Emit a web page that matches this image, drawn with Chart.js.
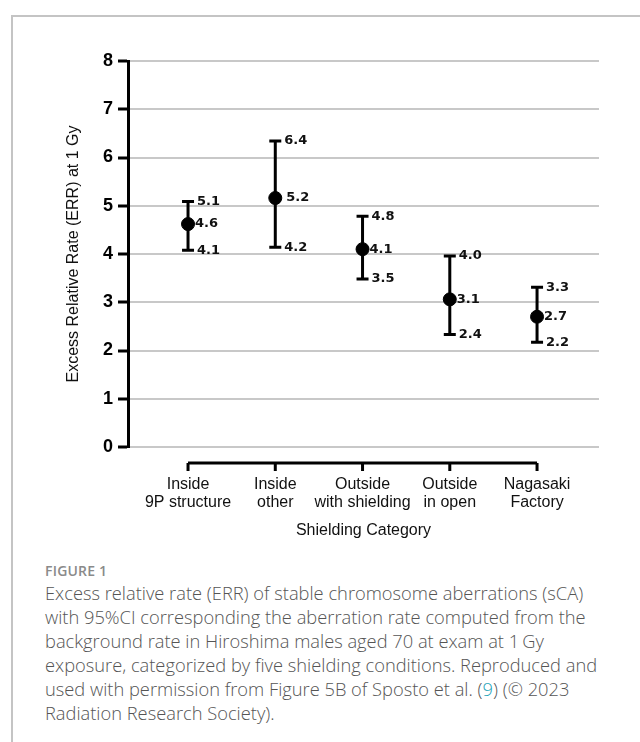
<!DOCTYPE html>
<html>
<head>
<meta charset="utf-8">
<script src="https://cdn.jsdelivr.net/npm/chart.js@4/dist/chart.umd.min.js"></script>
<style>
  html, body { margin: 0; padding: 0; background: #fff; }
  body { width: 640px; height: 742px; position: relative; overflow: hidden; }
  #frame { position: absolute; left: 11px; top: 15px; width: 700px; height: 800px;
           border-top: 2px solid #c4c4c4; border-left: 2px solid #c4c4c4; }
  #chartBox { position: absolute; left: 0; top: 0; width: 640px; height: 560px; }
  #figLabel { position: absolute; left: 45px; top: 561px; font-family: "Open Sans", sans-serif;
              font-weight: 600; font-size: 14px; color: #8a8a8a; letter-spacing: 0.2px; }
  #caption { position: absolute; left: 45px; top: 581px; font-family: "Open Sans", sans-serif;
             font-weight: 300; font-size: 18.3px; line-height: 24px; color: #555; white-space: nowrap; }
  #caption a { color: #1ba3b8; text-decoration: none; }
</style>
</head>
<body>
<div id="frame"></div>
<div id="chartBox"><canvas id="chart"></canvas></div>
<div id="figLabel">FIGURE 1</div>
<div id="caption">
Excess relative rate (ERR) of stable chromosome aberrations (sCA)<br>
with 95%CI corresponding the aberration rate computed from the<br>
background rate in Hiroshima males aged 70 at exam at 1&#8201;Gy<br>
exposure, categorized by five shielding conditions. Reproduced and<br>
used with permission from Figure 5B of Sposto et al. (<a>9</a>) (© 2023<br>
Radiation Research Society).
</div>
<script>
// categories (shielding)
const categories = [
  ["Inside", "9P structure"],
  ["Inside", "other"],
  ["Outside", "with shielding"],
  ["Outside", "in open"],
  ["Nagasaki", "Factory"]
];

// ERR at 1 Gy
const errValues = [4.62, 5.16, 4.10, 3.06, 2.70];
const ciLower   = [4.08, 4.14, 3.48, 2.33, 2.17];
const ciUpper   = [5.09, 6.34, 4.78, 3.96, 3.31];

// printed labels next to the bars
const errText   = ["4.6", "5.2", "4.1", "3.1", "2.7"];
const lowerText = ["4.1", "4.2", "3.5", "2.4", "2.2"];
const upperText = ["5.1", "6.4", "4.8", "4.0", "3.3"];

const yTicks = [0, 1, 2, 3, 4, 5, 6, 7, 8];

// error bars + value labels
const errorBarPlugin = {
  id: "errorBars",
  beforeDatasetsDraw(chart) {
    const ctx = chart.ctx;
    const xs = chart.scales.x, ys = chart.scales.y;
    ctx.save();
    ctx.strokeStyle = "#000";
    ctx.lineWidth = 3;
    errValues.forEach((v, i) => {
      const x = xs.getPixelForValue(i);
      const yl = ys.getPixelForValue(ciLower[i]);
      const yu = ys.getPixelForValue(ciUpper[i]);
      ctx.beginPath();
      ctx.moveTo(x, yl); ctx.lineTo(x, yu);
      ctx.moveTo(x - 6, yl); ctx.lineTo(x + 6, yl);
      ctx.moveTo(x - 6, yu); ctx.lineTo(x + 6, yu);
      ctx.stroke();
    });
    ctx.restore();
  },
  afterDatasetsDraw(chart) {
    const ctx = chart.ctx;
    const xs = chart.scales.x, ys = chart.scales.y;
    ctx.save();
    ctx.fillStyle = "#111";
    ctx.font = "bold 13px 'DejaVu Sans'";
    ctx.textBaseline = "middle";
    ctx.textAlign = "left";
    errValues.forEach((v, i) => {
      const x = xs.getPixelForValue(i) + 9;
      ctx.fillText(upperText[i], x, ys.getPixelForValue(ciUpper[i]));
      ctx.fillText(errText[i], x - 2 + (i === 1 ? 4 : 0), ys.getPixelForValue(v));
      ctx.fillText(lowerText[i], x, ys.getPixelForValue(ciLower[i]));
    });
    // bracket-style x axis
    const bx0 = xs.getPixelForValue(0);
    const bx1 = xs.getPixelForValue(categories.length - 1);
    const by = chart.chartArea.bottom + 16;
    ctx.strokeStyle = "#000";
    ctx.lineWidth = 3;
    ctx.beginPath();
    ctx.moveTo(bx0, by); ctx.lineTo(bx1, by);
    categories.forEach((c, i) => {
      const x = xs.getPixelForValue(i);
      ctx.moveTo(x, by); ctx.lineTo(x, by + 8);
    });
    ctx.stroke();
    ctx.restore();
  }
};

new Chart(document.getElementById("chart"), {
  type: "scatter",
  data: {
    datasets: [{
      data: errValues.map((v, i) => ({ x: i, y: v })),
      backgroundColor: "#000",
      borderColor: "#000",
      pointRadius: 6.5,
      pointHoverRadius: 6.5
    }]
  },
  options: {
    responsive: true,
    maintainAspectRatio: false,
    animation: false,
    layout: { padding: { top: 61, right: 41, left: 0, bottom: 0 } },
    plugins: { legend: { display: false }, tooltip: { enabled: false } },
    scales: {
      x: {
        type: "linear",
        min: -0.688,
        max: 4.71,
        afterFit(scale) { scale.height = 113; },
        grid: { display: false, drawTicks: false },
        border: { display: false },
        ticks: {
          stepSize: 1,
          includeBounds: false,
          padding: 28,
          color: "#111",
          font: { family: "'Liberation Sans', Arial", size: 16, lineHeight: 1.15 },
          callback: (v) => (Number.isInteger(v) && categories[v]) ? categories[v] : ""
        },
        title: {
          display: true,
          text: "Shielding Category",
          color: "#111",
          font: { family: "'Liberation Sans', Arial", size: 16 },
          padding: { top: 0, bottom: 20 }
        }
      },
      y: {
        min: yTicks[0],
        max: yTicks[yTicks.length - 1],
        afterFit(scale) { scale.width = 128; },
        afterBuildTicks(scale) { scale.ticks = yTicks.map(v => ({ value: v })); },
        grid: { color: "#c8c8c8", lineWidth: 2, tickColor: "#000", tickLength: 10, tickWidth: 3 },
        border: { display: true, color: "#000", width: 3 },
        ticks: {
          padding: 5,
          color: "#000",
          font: { family: "'Liberation Sans', Arial", size: 18, weight: "bold" }
        },
        title: {
          display: true,
          text: "Excess Relative Rate (ERR) at 1 Gy",
          color: "#111",
          font: { family: "'Liberation Sans', Arial", size: 16 },
          padding: { top: 64, bottom: 0 }
        }
      }
    }
  },
  plugins: [errorBarPlugin]
});
</script>
</body>
</html>
